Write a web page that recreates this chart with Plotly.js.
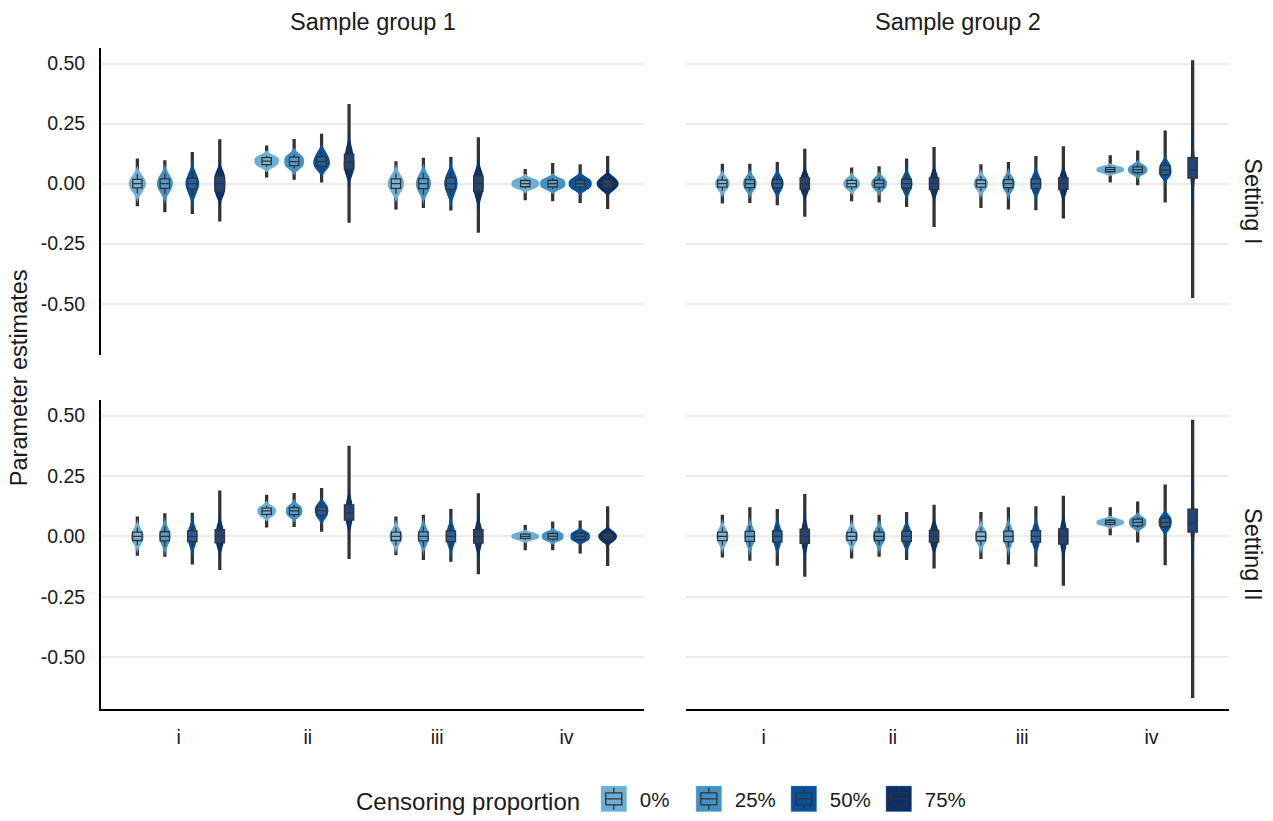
<!DOCTYPE html>
<html>
<head>
<meta charset="utf-8">
<script src="https://cdn.plot.ly/plotly-3.0.1.min.js"></script>
<style>
html,body{margin:0;padding:0;background:#ffffff;}
#chart{width:1273px;height:821px;}
</style>
</head>
<body>
<div id="chart"></div>
<script>
// ---------------- data ----------------
const categories = ['i', 'ii', 'iii', 'iv'];
const censoring = ['0%', '25%', '50%', '75%'];
const columnLabels = ['Sample group 1', 'Sample group 2'];
const rowLabels = ['Setting I', 'Setting II'];
const yTickVals = [-0.5, -0.25, 0, 0.25, 0.5];
const yTickText = ['-0.50', '-0.25', '0.00', '0.25', '0.50'];

// Estimated sample quantiles of the parameter estimates, one row per category (i..iv)
// Setting I, Sample group 1
const s1g1_c0 = [[-0.041,-0.027,-0.015,-0.007,0,0.007,0.015,0.026,0.040],[0.070,0.076,0.080,0.088,0.094,0.100,0.107,0.111,0.116],[-0.042,-0.027,-0.017,-0.008,0,0.008,0.017,0.027,0.042],[-0.020,-0.016,-0.012,-0.005,0,0.005,0.012,0.016,0.020]];
const s1g1_c1 = [[-0.043,-0.028,-0.017,-0.008,0,0.008,0.017,0.028,0.043],[0.063,0.071,0.076,0.085,0.092,0.100,0.109,0.114,0.121],[-0.045,-0.030,-0.018,-0.008,0,0.008,0.018,0.030,0.045],[-0.022,-0.017,-0.013,-0.006,0,0.006,0.013,0.017,0.022]];
const s1g1_c2 = [[-0.053,-0.035,-0.018,-0.008,0,0.008,0.018,0.033,0.050],[0.057,0.069,0.074,0.084,0.092,0.100,0.110,0.121,0.136],[-0.053,-0.035,-0.019,-0.009,0,0.009,0.021,0.033,0.050],[-0.026,-0.018,-0.014,-0.006,0,0.006,0.014,0.018,0.026]];
const s1g1_c3 = [[-0.050,-0.039,-0.030,-0.013,0,0.013,0.029,0.038,0.050],[0.035,0.053,0.061,0.076,0.088,0.102,0.118,0.135,0.159],[-0.063,-0.041,-0.030,-0.013,0,0.013,0.030,0.039,0.055],[-0.030,-0.020,-0.013,-0.006,0,0.006,0.013,0.020,0.030]];
// Setting I, Sample group 2
const s1g2_c0 = [[-0.031,-0.020,-0.013,-0.006,0,0.006,0.013,0.020,0.031],[-0.026,-0.017,-0.012,-0.005,0,0.005,0.012,0.017,0.026],[-0.032,-0.021,-0.013,-0.006,0,0.006,0.013,0.021,0.032],[0.044,0.048,0.050,0.054,0.058,0.062,0.066,0.068,0.072]];
const s1g2_c1 = [[-0.032,-0.021,-0.015,-0.007,0,0.007,0.015,0.021,0.031],[-0.027,-0.018,-0.013,-0.006,0,0.006,0.013,0.018,0.027],[-0.036,-0.024,-0.015,-0.007,0,0.007,0.015,0.022,0.034],[0.037,0.044,0.047,0.053,0.058,0.063,0.069,0.072,0.080]];
const s1g2_c2 = [[-0.036,-0.024,-0.015,-0.007,0,0.007,0.015,0.024,0.036],[-0.039,-0.025,-0.016,-0.007,0,0.007,0.016,0.025,0.039],[-0.041,-0.027,-0.017,-0.008,0,0.008,0.017,0.027,0.041],[0.027,0.034,0.039,0.048,0.056,0.064,0.074,0.079,0.091]];
const s1g2_c3 = [[-0.043,-0.029,-0.022,-0.010,0,0.010,0.022,0.029,0.043],[-0.047,-0.031,-0.022,-0.010,0,0.010,0.022,0.031,0.047],[-0.047,-0.031,-0.022,-0.010,0,0.010,0.022,0.031,0.047],[-0.030,0.010,0.028,0.048,0.058,0.072,0.102,0.125,0.160]];
// Setting II, Sample group 1
const s2g1_c0 = [[-0.037,-0.024,-0.015,-0.007,0,0.007,0.015,0.024,0.037],[0.082,0.088,0.092,0.099,0.105,0.110,0.116,0.119,0.127],[-0.037,-0.024,-0.015,-0.007,0,0.007,0.015,0.024,0.037],[-0.014,-0.011,-0.008,-0.004,0,0.004,0.008,0.011,0.014]];
const s2g1_c1 = [[-0.042,-0.027,-0.016,-0.007,0,0.007,0.016,0.028,0.042],[0.080,0.087,0.091,0.099,0.105,0.111,0.118,0.122,0.130],[-0.042,-0.027,-0.016,-0.007,0,0.007,0.016,0.027,0.042],[-0.017,-0.014,-0.011,-0.005,0,0.005,0.011,0.014,0.017]];
const s2g1_c2 = [[-0.047,-0.031,-0.018,-0.008,0,0.009,0.019,0.031,0.047],[0.072,0.084,0.089,0.098,0.106,0.113,0.121,0.126,0.137],[-0.048,-0.031,-0.019,-0.009,0,0.009,0.019,0.031,0.048],[-0.019,-0.016,-0.012,-0.005,0,0.005,0.012,0.016,0.019]];
const s2g1_c3 = [[-0.052,-0.034,-0.025,-0.011,0,0.011,0.025,0.034,0.052],[0.040,0.060,0.070,0.085,0.098,0.112,0.128,0.137,0.154],[-0.056,-0.037,-0.025,-0.011,0,0.011,0.025,0.034,0.053],[-0.024,-0.016,-0.011,-0.005,0,0.005,0.011,0.016,0.024]];
// Setting II, Sample group 2
const s2g2_c0 = [[-0.038,-0.025,-0.015,-0.007,0,0.007,0.015,0.025,0.038],[-0.036,-0.024,-0.014,-0.006,0,0.006,0.014,0.024,0.036],[-0.038,-0.025,-0.016,-0.007,0,0.007,0.016,0.025,0.038],[0.044,0.048,0.050,0.054,0.058,0.062,0.066,0.068,0.072]];
const s2g2_c1 = [[-0.043,-0.028,-0.018,-0.008,0,0.008,0.018,0.028,0.043],[-0.037,-0.024,-0.015,-0.007,0,0.007,0.015,0.024,0.036],[-0.044,-0.029,-0.019,-0.009,0,0.009,0.019,0.028,0.042],[0.036,0.040,0.044,0.052,0.058,0.063,0.070,0.074,0.079]];
const s2g2_c2 = [[-0.048,-0.031,-0.020,-0.009,0,0.009,0.020,0.031,0.048],[-0.042,-0.027,-0.018,-0.008,0,0.008,0.018,0.027,0.042],[-0.048,-0.031,-0.021,-0.009,0,0.009,0.021,0.031,0.048],[0.024,0.036,0.041,0.050,0.058,0.065,0.073,0.078,0.088]];
const s2g2_c3 = [[-0.059,-0.039,-0.025,-0.011,0,0.012,0.027,0.039,0.059],[-0.048,-0.031,-0.022,-0.010,0,0.010,0.022,0.031,0.048],[-0.061,-0.040,-0.030,-0.013,0,0.013,0.029,0.038,0.053],[-0.030,0.005,0.022,0.043,0.055,0.072,0.103,0.140,0.190]];

// Observed extremes [min, max] per category (i..iv)
const s1g1_c0_ext = [[-0.088,0.098],[0.032,0.153],[-0.102,0.087],[-0.063,0.055]];
const s1g1_c1_ext = [[-0.113,0.091],[0.022,0.180],[-0.095,0.102],[-0.067,0.080]];
const s1g1_c2_ext = [[-0.120,0.125],[0.011,0.201],[-0.106,0.105],[-0.074,0.074]];
const s1g1_c3_ext = [[-0.152,0.179],[-0.157,0.325],[-0.198,0.187],[-0.099,0.109]];
const s1g2_c0_ext = [[-0.077,0.077],[-0.067,0.061],[-0.095,0.074],[0.011,0.112]];
const s1g2_c1_ext = [[-0.074,0.077],[-0.072,0.066],[-0.102,0.084],[-0.001,0.132]];
const s1g2_c2_ext = [[-0.084,0.084],[-0.091,0.098],[-0.105,0.109],[-0.072,0.215]];
const s1g2_c3_ext = [[-0.132,0.139],[-0.174,0.146],[-0.139,0.149],[-0.470,0.508]];
const s2g1_c0_ext = [[-0.074,0.076],[0.043,0.166],[-0.072,0.076],[-0.051,0.041]];
const s2g1_c1_ext = [[-0.078,0.089],[0.045,0.173],[-0.092,0.083],[-0.051,0.055]];
const s2g1_c2_ext = [[-0.110,0.091],[0.025,0.194],[-0.099,0.107],[-0.065,0.059]];
const s2g1_c3_ext = [[-0.133,0.183],[-0.088,0.369],[-0.151,0.172],[-0.117,0.118]];
const s2g2_c0_ext = [[-0.081,0.083],[-0.085,0.083],[-0.088,0.094],[0.011,0.114]];
const s2g2_c1_ext = [[-0.095,0.114],[-0.078,0.083],[-0.110,0.114],[-0.019,0.138]];
const s2g2_c2_ext = [[-0.116,0.107],[-0.092,0.094],[-0.120,0.118],[-0.113,0.208]];
const s2g2_c3_ext = [[-0.161,0.169],[-0.127,0.125],[-0.198,0.162],[-0.663,0.476]];

// ---------------- styling ----------------
const colors = ['#6baed6', '#4292c6', '#08519c', '#08306b'];
const FONT = 'Liberation Sans, Arial, Helvetica, sans-serif';
const TXT = '#1a1a1a';
const BOXLINE = '#333333';

function tint(hex, f) {
  const n = parseInt(hex.slice(1), 16);
  const r = (n >> 16) & 255, g = (n >> 8) & 255, b = n & 255;
  const m = v => Math.round(v + (255 - v) * f);
  return 'rgb(' + m(r) + ',' + m(g) + ',' + m(b) + ')';
}

const panels = [
  {xa: 'x',  ya: 'y',  vals: [s1g1_c0, s1g1_c1, s1g1_c2, s1g1_c3], ext: [s1g1_c0_ext, s1g1_c1_ext, s1g1_c2_ext, s1g1_c3_ext]},
  {xa: 'x2', ya: 'y2', vals: [s1g2_c0, s1g2_c1, s1g2_c2, s1g2_c3], ext: [s1g2_c0_ext, s1g2_c1_ext, s1g2_c2_ext, s1g2_c3_ext]},
  {xa: 'x3', ya: 'y3', vals: [s2g1_c0, s2g1_c1, s2g1_c2, s2g1_c3], ext: [s2g1_c0_ext, s2g1_c1_ext, s2g1_c2_ext, s2g1_c3_ext]},
  {xa: 'x4', ya: 'y4', vals: [s2g2_c0, s2g2_c1, s2g2_c2, s2g2_c3], ext: [s2g2_c0_ext, s2g2_c1_ext, s2g2_c2_ext, s2g2_c3_ext]}
];

function flatten(perCat) {
  const x = [], y = [];
  perCat.forEach((vals, k) => vals.forEach(v => { x.push(categories[k]); y.push(v); }));
  return {x, y};
}

const tails = [], bodies = [];
panels.forEach((p, pi) => {
  censoring.forEach((c, ci) => {
    const e = flatten(p.ext[ci]);
    tails.push({
      type: 'violin', x: e.x, y: e.y, xaxis: p.xa, yaxis: p.ya,
      name: c, legendgroup: c, showlegend: false,
      offsetgroup: c, alignmentgroup: 'g' + pi,
      scalegroup: 'tail' + pi + '_' + ci, scalemode: 'width', spanmode: 'hard',
      fillcolor: 'rgba(0,0,0,0)', line: {width: 0, color: 'rgba(0,0,0,0)'},
      points: false, meanline: {visible: false},
      box: {visible: true, width: 0.01, fillcolor: BOXLINE, line: {color: BOXLINE, width: 3}},
      hoverinfo: 'skip'
    });
    const b = flatten(p.vals[ci]);
    bodies.push({
      type: 'violin', x: b.x, y: b.y, xaxis: p.xa, yaxis: p.ya,
      name: c, legendgroup: c, showlegend: pi === 0,
      offsetgroup: c, alignmentgroup: 'g' + pi,
      scalegroup: 'panel' + pi, scalemode: 'width', spanmode: 'soft',
      fillcolor: colors[ci], line: {width: 0, color: colors[ci]},
      opacity: 1,
      points: false, meanline: {visible: false},
      box: {visible: true, width: 0.34, fillcolor: tint(colors[ci], 0.1), line: {color: BOXLINE, width: 1.3}},
      hoverinfo: 'skip'
    });
  });
});

const xDomL = [101 / 1273, 644 / 1273];
const xDomR = [686 / 1273, 1229 / 1273];
const yDomT = [1 - 357 / 821, 1 - 48 / 821];
const yDomB = [1 - 713 / 821, 1 - 402 / 821];
const yRange = [-0.713, 0.566];

function xAxis(domain, anchor, bottom) {
  return {
    domain, anchor, type: 'category', categoryorder: 'array', categoryarray: categories,
    range: [-0.6, 3.6], showgrid: false, zeroline: false, ticks: '',
    showticklabels: bottom, showline: bottom, linecolor: '#000000', linewidth: 2,
    tickfont: {size: 19.5, color: TXT}, ticklabelstandoff: 10, automargin: false, fixedrange: true
  };
}
function yAxis(domain, anchor, left) {
  return {
    domain, anchor, range: yRange, tickmode: 'array', tickvals: yTickVals, ticktext: yTickText,
    showgrid: true, gridcolor: '#ebebeb', gridwidth: 2, zeroline: false, ticks: '',
    showticklabels: left, showline: left, linecolor: '#000000', linewidth: 2,
    tickfont: {size: 19.5, color: TXT}, ticklabelstandoff: 10, automargin: false, fixedrange: true
  };
}

const annFont = {family: FONT, size: 23.5, color: TXT};
const layout = {
  width: 1273, height: 821,
  margin: {l: 0, r: 0, t: 0, b: 0, pad: 0},
  paper_bgcolor: '#ffffff', plot_bgcolor: 'rgba(0,0,0,0)',
  font: {family: FONT, color: TXT, size: 19.5},
  violinmode: 'group', violingap: 0.15, violingroupgap: 0,
  showlegend: true,
  legend: {
    orientation: 'h', x: 0.522, xanchor: 'center', y: 1 - 805 / 821, yanchor: 'middle',
    title: {text: 'Censoring proportion ', font: {size: 24, color: TXT}, side: 'left'},
    font: {size: 20.5, color: TXT}, bgcolor: 'rgba(0,0,0,0)',
    entrywidth: 50, entrywidthmode: 'pixels',
    itemclick: false, itemdoubleclick: false
  },
  xaxis: xAxis(xDomL, 'y', false),
  yaxis: yAxis(yDomT, 'x', true),
  xaxis2: xAxis(xDomR, 'y2', false),
  yaxis2: yAxis(yDomT, 'x2', false),
  xaxis3: xAxis(xDomL, 'y3', true),
  yaxis3: yAxis(yDomB, 'x3', true),
  xaxis4: xAxis(xDomR, 'y4', true),
  yaxis4: yAxis(yDomB, 'x4', false),
  annotations: [
    {text: columnLabels[0], xref: 'paper', yref: 'paper', x: (xDomL[0] + xDomL[1]) / 2, y: 1 - 22 / 821, xanchor: 'center', yanchor: 'middle', showarrow: false, font: annFont},
    {text: columnLabels[1], xref: 'paper', yref: 'paper', x: (xDomR[0] + xDomR[1]) / 2, y: 1 - 22 / 821, xanchor: 'center', yanchor: 'middle', showarrow: false, font: annFont},
    {text: rowLabels[0], xref: 'paper', yref: 'paper', x: 1253 / 1273, y: (yDomT[0] + yDomT[1]) / 2, xanchor: 'center', yanchor: 'middle', textangle: 90, showarrow: false, font: annFont},
    {text: rowLabels[1], xref: 'paper', yref: 'paper', x: 1253 / 1273, y: (yDomB[0] + yDomB[1]) / 2, xanchor: 'center', yanchor: 'middle', textangle: 90, showarrow: false, font: annFont},
    {text: 'Parameter estimates', xref: 'paper', yref: 'paper', x: 19 / 1273, y: (yDomB[0] + yDomT[1]) / 2, xanchor: 'center', yanchor: 'middle', textangle: -90, showarrow: false, font: {family: FONT, size: 23.5, color: TXT}}
  ]
};

// Legend keys drawn as boxplot glyphs on a filled square (like the reference key)
function styleLegendKeys(gd) {
  const items = gd.querySelectorAll('.legend .traces');
  items.forEach((item, k) => {
    const pts = item.querySelector('.legendpoints');
    if (!pts) return;
    const old = pts.querySelector('path.legendbox');
    if (old) old.setAttribute('d', '');
    const ns = 'http://www.w3.org/2000/svg';
    const g = document.createElementNS(ns, 'g');
    g.setAttribute('transform', 'translate(19,0)');
    const sq = document.createElementNS(ns, 'path');
    sq.setAttribute('d', 'M-13,-13H13V13H-13Z');
    sq.setAttribute('style', 'fill:' + colors[k % colors.length] + ';stroke:rgba(255,255,255,0.35);stroke-width:1px');
    const glyph = document.createElementNS(ns, 'path');
    glyph.setAttribute('d', 'M0,-11V-6M0,6V11M-8,-6H8V6H-8ZM-8,0H8');
    glyph.setAttribute('style', 'fill:none;stroke:' + BOXLINE + ';stroke-width:1.3px');
    g.appendChild(sq);
    g.appendChild(glyph);
    pts.appendChild(g);
    const txt = item.querySelector('text.legendtext');
    if (txt) txt.setAttribute('x', '45');
  });
}

Plotly.newPlot('chart', tails.concat(bodies), layout, {displayModeBar: false, responsive: false})
  .then(gd => styleLegendKeys(gd));
</script>
</body>
</html>
